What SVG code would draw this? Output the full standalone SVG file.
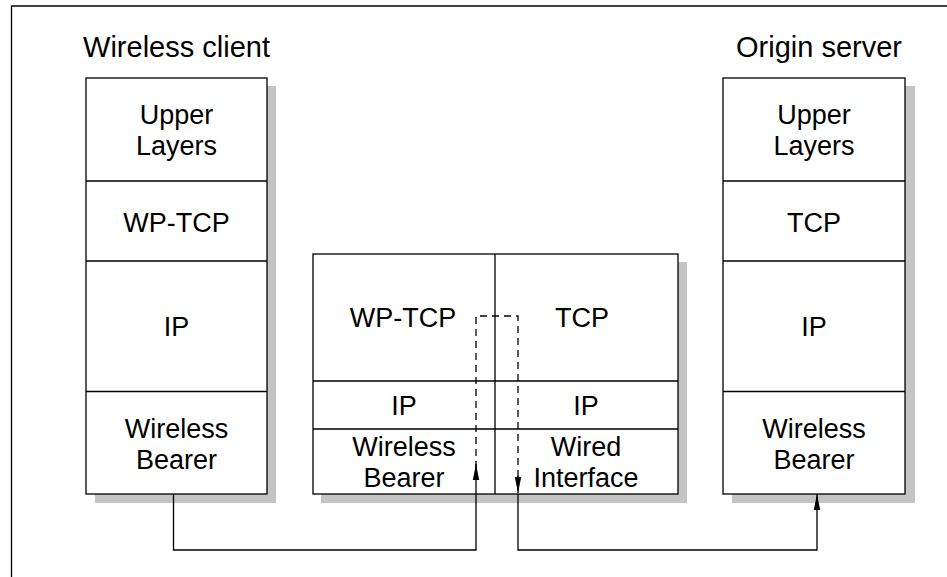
<svg xmlns="http://www.w3.org/2000/svg" width="947" height="577" viewBox="0 0 947 577">
<defs>
<style>
.box{fill:#fff;stroke:#000;stroke-width:1.3}
.sh{fill:#c4c4c4}
.div{stroke:#000;stroke-width:1.3;fill:none}
.t{font-family:"Liberation Sans",Arial,sans-serif;font-size:27px;fill:#000;text-anchor:middle}
.title{font-family:"Liberation Sans",Arial,sans-serif;font-size:29px;fill:#000;text-anchor:middle}
.con{stroke:#000;stroke-width:1.3;fill:none}
.dash{stroke:#000;stroke-width:1.3;fill:none;stroke-dasharray:7 5}
.wm{fill:none;stroke:#000;stroke-opacity:0.07;stroke-width:40}
</style>
<marker id="ah" viewBox="0 0 16 8" refX="16" refY="4" markerWidth="16" markerHeight="8" markerUnits="userSpaceOnUse" orient="auto">
<path d="M0,0.8 L16,4 L0,7.2 Z" fill="#000"/>
</marker>
</defs>
<rect width="947" height="577" fill="#fff"/>
<path d="M11.5,577 V6 H947" fill="none" stroke="#000" stroke-width="1.3"/>

<g id="client">
<text class="title" x="176.5" y="57">Wireless client</text>
<rect class="sh" x="95" y="86" width="181" height="417"/>
<rect class="box" x="86" y="78" width="181" height="416"/>
<path class="div" d="M86,181 H267 M86,261 H267 M86,391.5 H267"/>
<text class="t" x="176.5" y="123.5">Upper</text>
<text class="t" x="176.5" y="154.5">Layers</text>
<text class="t" x="176.5" y="231.5">WP-TCP</text>
<text class="t" x="176.5" y="336">IP</text>
<text class="t" x="176.5" y="437.5">Wireless</text>
<text class="t" x="176.5" y="468.5">Bearer</text>
</g>

<g id="proxy">
<rect class="sh" x="321" y="262" width="366" height="241"/>
<rect class="box" x="313" y="254" width="365" height="240"/>
<path class="div" d="M495,254 V494 M313,381 H678 M313,429 H678"/>
<text class="t" x="403" y="327">WP-TCP</text>
<text class="t" x="582" y="327">TCP</text>
<text class="t" x="404" y="415">IP</text>
<text class="t" x="586" y="415">IP</text>
<text class="t" x="404" y="456">Wireless</text>
<text class="t" x="586" y="456">Wired</text>
<text class="t" x="404" y="487">Bearer</text>
<text class="t" x="586" y="487">Interface</text>
</g>

<g id="server">
<text class="title" x="819" y="57">Origin server</text>
<rect class="sh" x="732" y="86" width="183" height="417"/>
<rect class="box" x="723" y="78" width="182" height="416"/>
<path class="div" d="M723,181 H905 M723,261 H905 M723,391.5 H905"/>
<text class="t" x="814" y="123.5">Upper</text>
<text class="t" x="814" y="154.5">Layers</text>
<text class="t" x="814" y="231.5">TCP</text>
<text class="t" x="814" y="336">IP</text>
<text class="t" x="814" y="437.5">Wireless</text>
<text class="t" x="814" y="468.5">Bearer</text>
</g>

<g id="connectors">
<path class="con" d="M173.5,494 V550 H476 V464" marker-end="url(#ah)"/>
<path class="dash" d="M476,468 V316 H518 V493"/>
<path d="M518,476 L520.5,493 L515.5,493" fill="none"/>
<path class="con" d="M518,494 V550 H817 V494" marker-end="url(#ah)"/>
<path class="con" d="M518,476 V493" marker-end="url(#ah)"/>
</g>
</svg>
